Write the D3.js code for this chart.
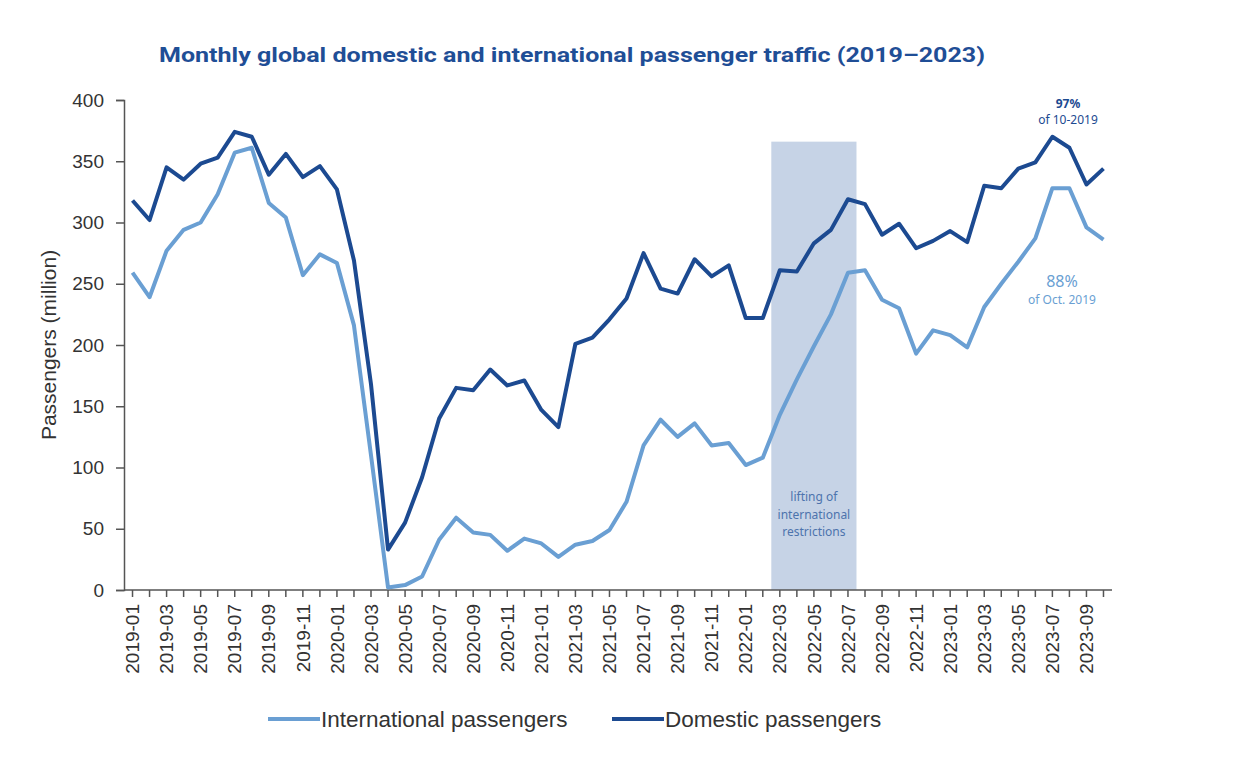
<!DOCTYPE html>
<html><head><meta charset="utf-8">
<script src="https://cdn.jsdelivr.net/npm/d3@7"></script>
<style>body{margin:0;background:#fff;}svg{display:block;}</style>
</head><body>
<svg id="chart" width="1254" height="772"></svg>
<script>
const months = ["2019-01","2019-02","2019-03","2019-04","2019-05","2019-06","2019-07","2019-08","2019-09","2019-10","2019-11","2019-12",
"2020-01","2020-02","2020-03","2020-04","2020-05","2020-06","2020-07","2020-08","2020-09","2020-10","2020-11","2020-12",
"2021-01","2021-02","2021-03","2021-04","2021-05","2021-06","2021-07","2021-08","2021-09","2021-10","2021-11","2021-12",
"2022-01","2022-02","2022-03","2022-04","2022-05","2022-06","2022-07","2022-08","2022-09","2022-10","2022-11","2022-12",
"2023-01","2023-02","2023-03","2023-04","2023-05","2023-06","2023-07","2023-08","2023-09","2023-10"];
const international = [259,239,277,294,300,323,357,361,316,304,257,274,267,216,110,2,4,11,41,59,47,45,32,42,38,27,37,40,49,72,118,139,125,136,118,120,102,108,143,172,199,225,259,261,237,230,193,212,208,198,231,250,268,287,328,328,296,286];
const domestic = [318,302,345,335,348,353,374,370,339,356,337,346,327,269,168,33,55,92,140,165,163,180,167,171,147,133,201,206,221,238,275,246,242,270,256,265,222,222,261,260,283,294,319,315,290,299,279,285,293,284,330,328,344,349,370,361,331,344];
const yTicks = [0,50,100,150,200,250,300,350,400];
const xTickLabels = months.filter((m,i)=>i%2===0);
const shadeRange = ["2022-03","2022-07"];
const shadeTop = 366;
const seriesNames = ["International passengers","Domestic passengers"];

const svg = d3.select("#chart");
const mLeft = 124, mRight = 1112, mTop = 100, mBottom = 590;
const x = d3.scaleBand().domain(months).range([mLeft, mRight]);
const y = d3.scaleLinear().domain([0,400]).range([mBottom, mTop]);
const cx = m => x(m) + x.bandwidth()/2;
const darkC = "#1c4a91", lightC = "#6a9fd3";

// shade
svg.append("rect")
  .attr("x", x(shadeRange[0])).attr("y", y(shadeTop))
  .attr("width", x(shadeRange[1]) + x.bandwidth() - x(shadeRange[0]))
  .attr("height", y(0) - y(shadeTop))
  .attr("fill", "#c6d3e6");
const shadeMid = (x(shadeRange[0]) + x(shadeRange[1]) + x.bandwidth())/2;
["lifting of","international","restrictions"].forEach((t,i)=>{
  svg.append("text").attr("x", shadeMid).attr("y", 501 + i*17.5)
    .attr("text-anchor","middle").attr("font-family","Noto Sans, sans-serif")
    .attr("font-size",12).attr("fill","#4d73ad").text(t);
});

// axes
const yAxis = svg.append("g").attr("transform",`translate(${mLeft},0)`)
  .call(d3.axisLeft(y).tickValues(yTicks).tickSize(8).tickPadding(12));
yAxis.selectAll("text").attr("font-family","Liberation Sans, Arial, sans-serif").attr("font-size",19).attr("fill","#333");
yAxis.selectAll("line,path").attr("stroke","#555").attr("stroke-width",1.5);

const xAxis = svg.append("g").attr("transform",`translate(0,${mBottom})`)
  .call(d3.axisBottom(x).tickSize(7).tickFormat(d => xTickLabels.includes(d) ? d : ""));
xAxis.select("path").attr("d", `M${mLeft},0H${mRight}`).attr("stroke","#555").attr("stroke-width",1.5);
xAxis.selectAll("line").attr("stroke","#555").attr("stroke-width",1.5);
xAxis.selectAll("text")
  .attr("font-family","Liberation Sans, Arial, sans-serif").attr("font-size",19).attr("fill","#333")
  .attr("transform","rotate(-90)").attr("text-anchor","end")
  .attr("x",-14).attr("y",0).attr("dy","0.35em");

// y label
svg.append("text").attr("transform","translate(56,345) rotate(-90)")
  .attr("text-anchor","middle").attr("font-family","Liberation Sans, Arial, sans-serif")
  .attr("font-size",21).attr("fill","#333").text("Passengers (million)");

// lines
const line = d3.line().x((d,i)=>cx(months[i])).y(d=>y(d));
svg.append("path").datum(international).attr("d",line).attr("fill","none")
  .attr("stroke",lightC).attr("stroke-width",4).attr("stroke-linejoin","round");
svg.append("path").datum(domestic).attr("d",line).attr("fill","none")
  .attr("stroke",darkC).attr("stroke-width",4).attr("stroke-linejoin","round");

// title
svg.append("text").attr("x",572).attr("y",62).attr("text-anchor","middle")
  .attr("font-family","Liberation Sans Narrow, Roboto, sans-serif").attr("font-weight","bold")
  .attr("font-size",21).attr("fill","#1f4e96").attr("textLength",826).attr("lengthAdjust","spacingAndGlyphs")
  .text("Monthly global domestic and international passenger traffic  (2019–2023)");

// annotations
svg.append("text").attr("x",1068).attr("y",108).attr("text-anchor","middle")
  .attr("font-family","Noto Sans, sans-serif").attr("font-weight","bold").attr("font-size",12)
  .attr("fill",darkC).text("97%");
svg.append("text").attr("x",1068).attr("y",124).attr("text-anchor","middle")
  .attr("font-family","Noto Sans, sans-serif").attr("font-size",12)
  .attr("fill",darkC).text("of 10-2019");
svg.append("text").attr("x",1062).attr("y",287).attr("text-anchor","middle")
  .attr("font-family","Noto Sans, sans-serif").attr("font-size",16)
  .attr("fill",lightC).text("88%");
svg.append("text").attr("x",1062).attr("y",304).attr("text-anchor","middle")
  .attr("font-family","Noto Sans, sans-serif").attr("font-size",12)
  .attr("fill",lightC).text("of Oct. 2019");

// legend
const legend = [{name:seriesNames[0], c:lightC, x:268},{name:seriesNames[1], c:darkC, x:612}];
legend.forEach(l=>{
  svg.append("line").attr("x1",l.x).attr("x2",l.x+52).attr("y1",719).attr("y2",719)
    .attr("stroke",l.c).attr("stroke-width",4);
  svg.append("text").attr("x",l.x+53).attr("y",727).attr("font-family","Liberation Sans, Arial, sans-serif")
    .attr("font-size",22.5).attr("fill","#333").text(l.name);
});
</script>
</body></html>
